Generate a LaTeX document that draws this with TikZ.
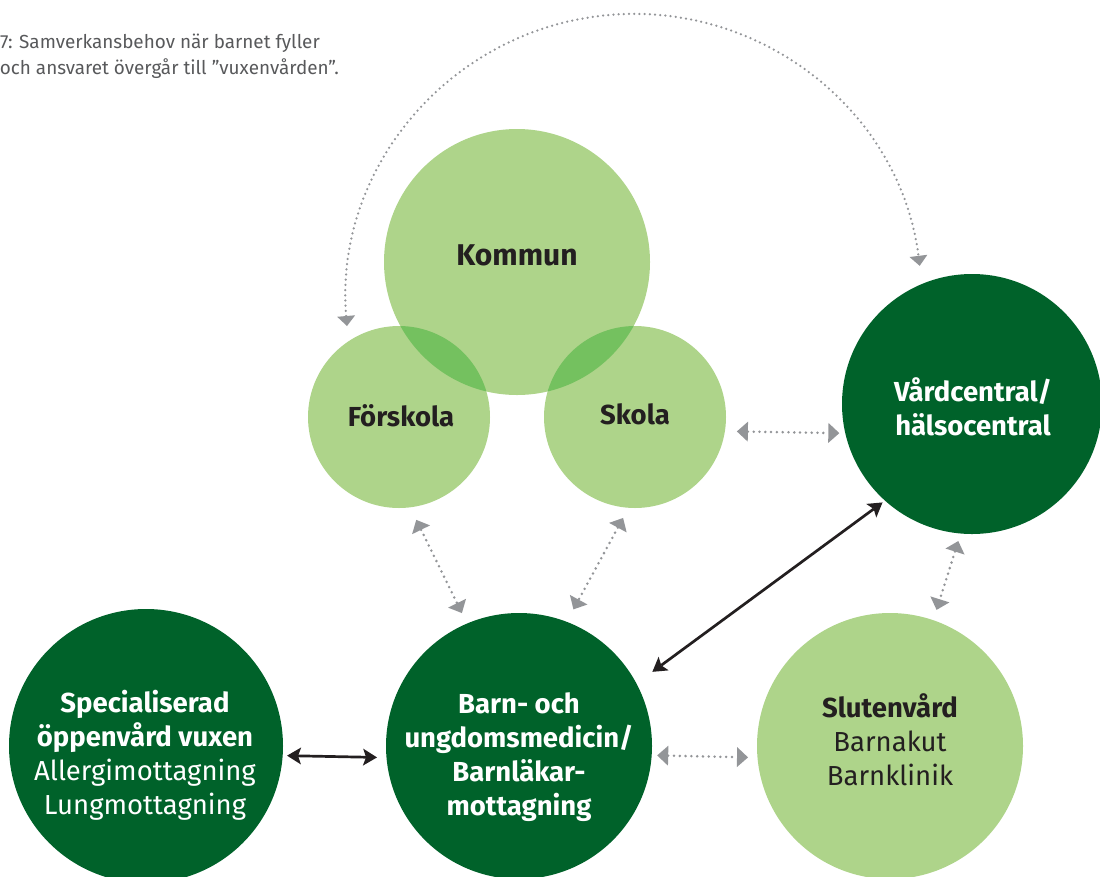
\documentclass[tikz,border=0pt]{standalone}
\usepackage{fontspec}
\setmainfont{Fira Sans}
\usetikzlibrary{arrows.meta}

\definecolor{leaf}{HTML}{AED48A}
\definecolor{leafdeep}{HTML}{74C15F}
\definecolor{forest}{HTML}{00622A}
\definecolor{ink}{HTML}{231F20}
\definecolor{pebble}{HTML}{939598}
\definecolor{capgray}{HTML}{58595B}

\begin{document}
\begin{tikzpicture}[x=1pt,y=-1pt,
  circ/.style={circle, inner sep=0pt, outer sep=0pt},
  light/.style={circ, fill=leaf},
  dark/.style={circ, fill=forest},
  txt/.style={align=center, inner sep=0pt, text=ink,
    font=\bfseries\fontsize{27.5}{34}\selectfont},
  wtxt/.style={txt, text=white},
  dotlink/.style={draw=pebble, line width=2.8pt, dash pattern=on 0pt off 5.8pt,
    line cap=round,
    {Triangle[length=11pt,width=20pt,line width=0pt]}-{Triangle[length=11pt,width=20pt,line width=0pt]}},
  arclink/.style={draw=pebble, line width=2.5pt, dash pattern=on 0pt off 5.2pt,
    line cap=round,
    {Triangle[length=10pt,width=18pt,line width=0pt]}-{Triangle[length=10pt,width=18pt,line width=0pt]}},
  solidlink/.style={draw=ink, line width=2.7pt,
    {Stealth[length=14pt,width=17pt,inset=3pt,line width=0pt]}-{Stealth[length=14pt,width=17pt,inset=3pt,line width=0pt]}},
  captxt/.style={inner sep=0pt, text=capgray, font=\fontsize{18.9}{26}\selectfont},
]
\useasboundingbox (0,0) rectangle (1100,876);

% caption lines
\node[captxt, anchor=base east] (cap1) at (320,48) {7: Samverkansbehov när barnet fyller};
\node[captxt, anchor=base east] (cap2) at (339,74) {och ansvaret övergår till ”vuxenvården”.};

% municipal cluster
\node[light, minimum size=182pt] (fors) at (399,417) {};
\node[light, minimum size=182pt] (skola) at (635,417) {};
\node[light, minimum size=266pt] (kom) at (517,262) {};
\begin{scope}
  \clip (kom.center) circle[radius=133];
  \fill[leafdeep] (fors.center) circle[radius=91];
  \fill[leafdeep] (skola.center) circle[radius=91];
\end{scope}
\node[txt, font=\bfseries\fontsize{30}{34}\selectfont] (kom-t) at (517,255) {Kommun};
\node[txt] (fors-t) at (401,416) {Förskola};
\node[txt] (skola-t) at (635,414) {Skola};

% care providers
\node[dark, minimum size=260pt] (vard) at (972,404) {};
\node[wtxt] (vard-t) at (973,407) {Vårdcentral/\\hälsocentral};

\node[dark, minimum size=274pt] (spec) at (146,746) {};
\node[wtxt] (spec-t) at (145,755) {Specialiserad\\öppenvård vuxen\\\mdseries Allergimottagning\\\mdseries Lungmottagning};

\node[dark, minimum size=266pt] (barn) at (519,746) {};
\node[wtxt] (barn-t) at (519,757) {Barn- och\\ungdomsmedicin/\\Barnläkar-\\mottagning};

\node[light, minimum size=266pt] (slut) at (890,746) {};
\node[txt] (slut-t) at (890,740) {Slutenvård\\\mdseries Barnakut\\\mdseries Barnklinik};

% dotted connectors
\draw[dotlink, shorten <=14pt, shorten >=11.7pt] (fors.-83.9) -- (barn.-247.1);
\draw[dotlink, shorten <=11.6pt, shorten >=14.2pt] (skola.-94.2) -- (barn.-291.8);
\draw[dotlink, shorten <=12pt, shorten >=6pt] (skola.-9.5) -- (vard.-167.6);
\draw[dotlink, shorten <=7.9pt, shorten >=10.9pt] (vard.-95.2) -- (slut.-289.2);
\draw[dotlink, shorten <=5.5pt, shorten >=9.5pt] (barn.-4.7) -- (slut.-175.3);

% long arc from the preschool to the health centre
\coordinate (arcL) at (347,326);
\draw[arclink] (arcL) arc[start angle=175.2, end angle=352.8, radius=288];

% solid connectors
\draw[solidlink, shorten <=4.4pt, shorten >=9.5pt] (spec.-4.6) -- (barn.-175.3);
\draw[solidlink, shorten <=19.8pt, shorten >=3.1pt] (barn.-332.6) -- (vard.-132.3);
\end{tikzpicture}
\end{document}
